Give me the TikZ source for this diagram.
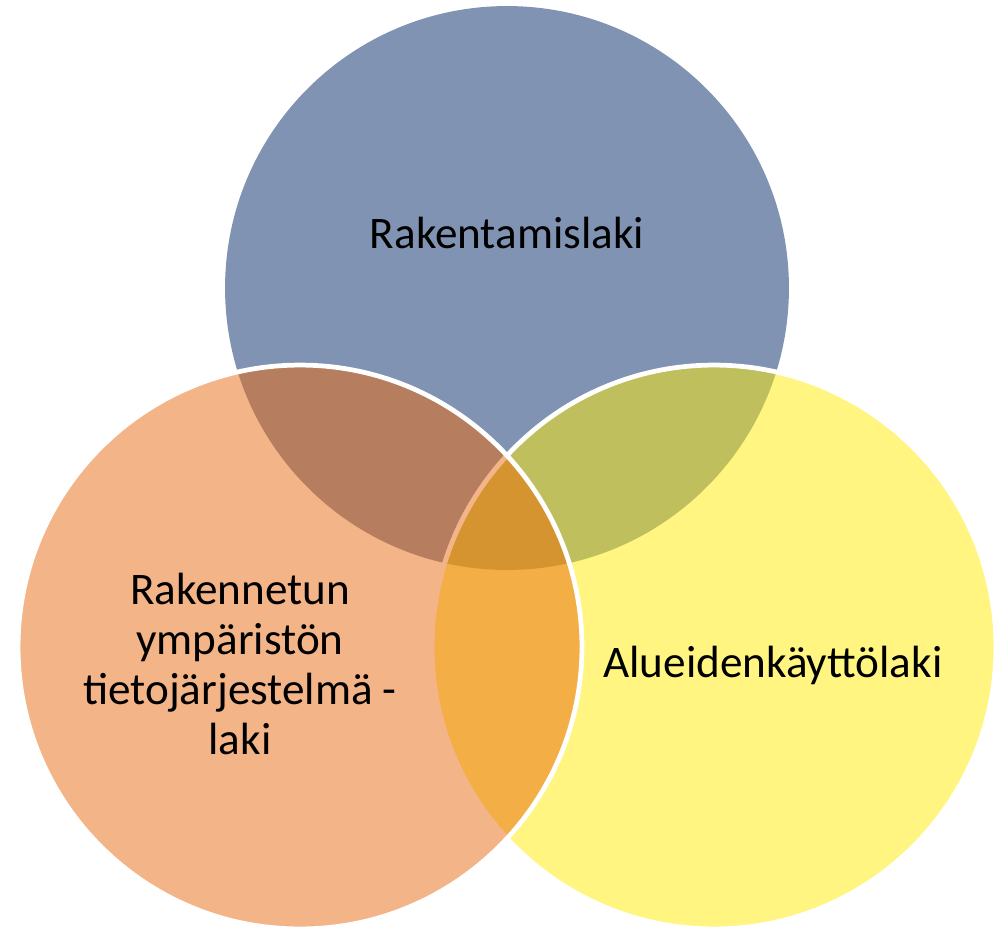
\documentclass[tikz,border=0pt]{standalone}
\usepackage{fontspec}
\setmainfont{Carlito}

\definecolor{venblue}{HTML}{8093B3}
\definecolor{venorange}{HTML}{F3B488}
\definecolor{venyellow}{HTML}{FFF580}
\definecolor{venbrown}{HTML}{B67E5E}
\definecolor{venolive}{HTML}{C0BF5E}
\definecolor{venamber}{HTML}{F4AE46}
\definecolor{vengold}{HTML}{D59430}

\tikzset{
    ring/.style={line width=0.095cm},
    lawlabel/.style={text=black,align=center,font=\fontsize{25.7}{28.5}\selectfont}
}

\begin{document}
\begin{tikzpicture}[x=0.02cm,y=-0.02cm]
    \useasboundingbox (0,0) rectangle (1007,930);
    \def\myrad{5.64cm}
    \foreach \myx/\myy/\mylabel in {507/288/B,714/647/Y,300/647/O}{
        \coordinate (\mylabel) at (\myx,\myy);
    }
    % top and right circles
    \fill[venblue] (B) circle[radius=\myrad];
    \fill[venyellow] (Y) circle[radius=\myrad];
    \begin{scope}
        \clip (B) circle[radius=\myrad];
        \fill[venolive] (Y) circle[radius=\myrad];
    \end{scope}
    \draw[white,ring] (Y) circle[radius=\myrad];
    % left circle and the overlaps
    \fill[venorange] (O) circle[radius=\myrad];
    \begin{scope}
        \clip (O) circle[radius=\myrad];
        \fill[venbrown] (B) circle[radius=\myrad];
        \fill[venamber] (Y) circle[radius=\myrad];
        \draw[venorange,ring] (Y) circle[radius=\myrad];
        \clip (B) circle[radius=\myrad];
        \fill[vengold] (Y) circle[radius=\myrad];
        \draw[venorange,ring] (Y) circle[radius=\myrad];
    \end{scope}
    \draw[white,ring] (O) circle[radius=\myrad];
    % labels
    \node[lawlabel] (rakentamis) at (507,233) {Rakentamislaki};
    \node[lawlabel] (alueiden) at (773,665) {Alueidenkäyttölaki};
    \node[lawlabel] (tietojarj) at (240,664) {Rakennetun\\ympäristön\\tietojärjestelmä -\\laki};
\end{tikzpicture}
\end{document}
